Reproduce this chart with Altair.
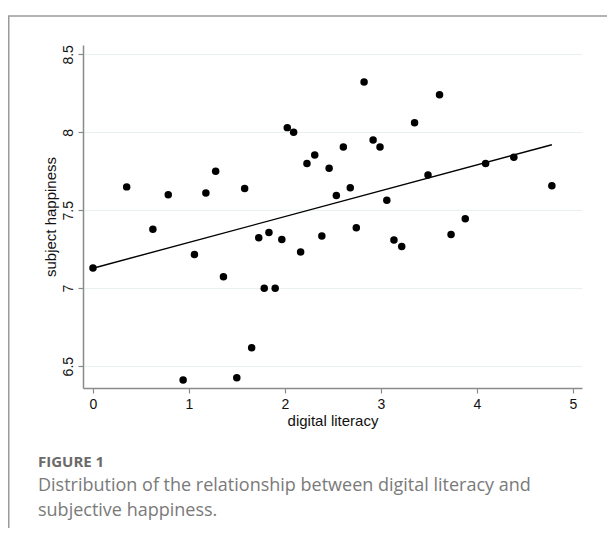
import altair as alt
import pandas as pd

# digital literacy (x) and subject happiness (y)
literacy = [0.351, 0.784, 1.176, 1.278, 1.580, 2.024, 2.090, 2.229, 2.310, 2.460,
            2.535, 2.608, 2.680, 2.824, 2.918, 2.990, 3.061, 3.350, 3.490, 3.610,
            4.090, 4.384, 4.780,
            0.000, 0.624, 1.057, 1.359, 0.939, 1.498, 1.653, 1.727, 1.833, 1.784,
            1.898, 1.967, 2.163, 2.384, 2.743, 3.135, 3.216, 3.730, 3.878]
happiness = [7.650, 7.600, 7.610, 7.750, 7.640, 8.030, 8.000, 7.800, 7.855, 7.770,
             7.595, 7.906, 7.645, 8.323, 7.950, 7.906, 7.564, 8.062, 7.726, 8.241,
             7.800, 7.840, 7.657,
             7.129, 7.378, 7.217, 7.073, 6.412, 6.425, 6.618, 7.324, 7.358, 7.000,
             7.000, 7.313, 7.232, 7.335, 7.388, 7.309, 7.268, 7.345, 7.446]

x_ticks = [0, 1, 2, 3, 4, 5]
y_ticks = [6.5, 7, 7.5, 8, 8.5]

caption_title = "FIGURE 1"
caption_lines = ["Distribution of the relationship between digital literacy and",
                 "subjective happiness."]

df = pd.DataFrame({"literacy": literacy, "happiness": happiness})

AXIS_FONT = "Liberation Sans"
GREY = "#8a8a8a"

x_enc = alt.X("literacy:Q",
              scale=alt.Scale(domain=[-0.104, 5.094], nice=False, zero=False),
              axis=alt.Axis(values=x_ticks, title="digital literacy", grid=False,
                            labelFont=AXIS_FONT, labelFontSize=14, labelColor="#111",
                            titleFont=AXIS_FONT, titleFontSize=15, titleFontWeight="normal",
                            titleColor="#111", labelPadding=4, titlePadding=2,
                            tickSize=5, tickColor=GREY, domainColor=GREY,
                            domainWidth=1.5, tickWidth=1.2, format="d"))
y_enc = alt.Y("happiness:Q",
              scale=alt.Scale(domain=[6.36, 8.56], nice=False, zero=False),
              axis=alt.Axis(values=y_ticks, title="subject happiness", grid=True,
                            gridColor="#e8f0f1", gridWidth=1,
                            labelAngle=270, labelAlign="center", labelBaseline="bottom",
                            labelFont=AXIS_FONT, labelFontSize=14, labelColor="#111",
                            titleFont=AXIS_FONT, titleFontSize=15, titleFontWeight="normal",
                            titleColor="#111", labelPadding=3, titlePadding=3,
                            tickSize=5, tickColor=GREY, domainColor=GREY,
                            domainWidth=1.5, tickWidth=1.2, format="~g"))

points = alt.Chart(df).mark_circle(size=56, color="black", opacity=1).encode(x=x_enc, y=y_enc)

fit = alt.Chart(df).transform_regression("literacy", "happiness").mark_line(
    color="black", strokeWidth=1.4).encode(x="literacy:Q", y="happiness:Q")

one = pd.DataFrame({"k": [0]})
frame_left = alt.Chart(one).mark_rule(color="#9a9a9a", strokeWidth=1.5).encode(
    x=alt.value(-74.25), y=alt.value(-29), y2=alt.value(495))
frame_top = alt.Chart(one).mark_rule(color="#9a9a9a", strokeWidth=1.5).encode(
    y=alt.value(-29), x=alt.value(-75), x2=alt.value(530))

fig_label = alt.Chart(one).mark_text(
    text=caption_title, font="Open Sans", fontSize=15, fontWeight="bold",
    color="#6a6a6a", align="left", baseline="alphabetic").encode(
    x=alt.value(-45), y=alt.value(422))
fig_caption = alt.Chart(one).mark_text(
    text=caption_lines, font="Open Sans", fontSize=18, lineHeight=25,
    color="#7a7a7a", align="left", baseline="alphabetic").encode(
    x=alt.value(-45), y=alt.value(446))

chart = alt.layer(frame_left, frame_top, points, fit, fig_label, fig_caption).properties(
    width=499, height=343,
    autosize=alt.AutoSizeParams(type="none"),
    padding={"left": 75, "top": 37, "right": 25, "bottom": 140},
).configure_view(stroke=None)

chart.save("out.html", embed_options={"renderer": "svg", "actions": False})
